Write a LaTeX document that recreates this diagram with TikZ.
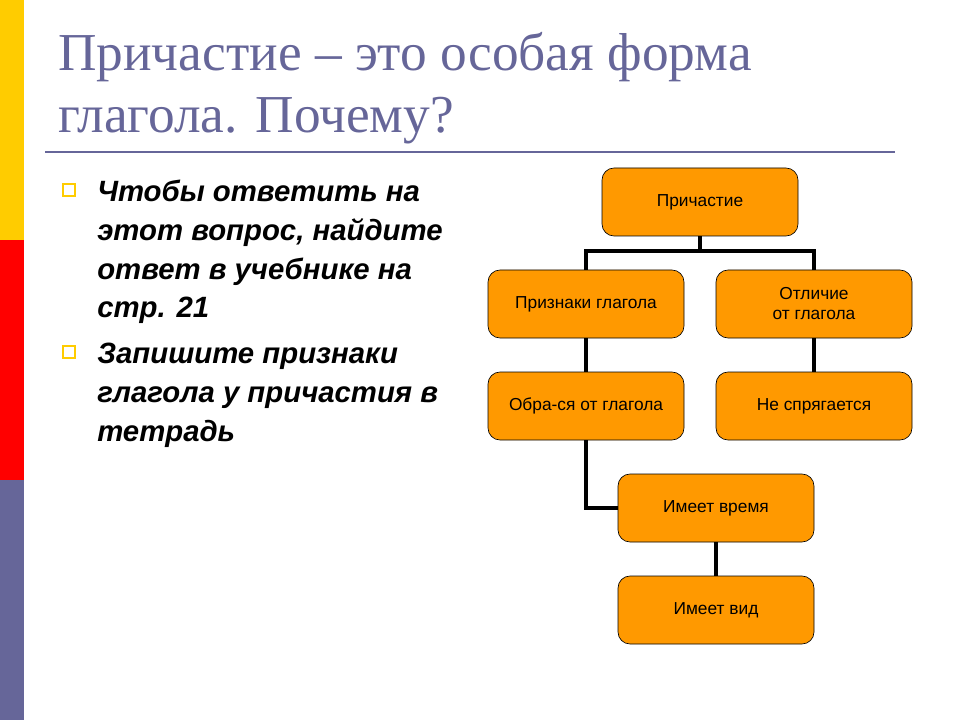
\documentclass[tikz,border=0pt]{standalone}
\usepackage{fontspec}
\setmainfont{Liberation Serif}
\newfontfamily\arialfont{Liberation Sans}
\definecolor{slideblue}{HTML}{666699}
\definecolor{slideyellow}{HTML}{FFCC00}
\definecolor{slidered}{HTML}{FF0000}
\definecolor{boxorange}{HTML}{FF9900}
\begin{document}
\begin{tikzpicture}[x=0.75pt, y=-0.75pt,
    box/.style={draw, rounded corners=9pt, fill=boxorange, line width=0.5pt,
        minimum width=147pt, minimum height=51pt, align=center,
        font=\arialfont\fontsize{13}{15}\selectfont},
    link/.style={line width=2.5pt},
    bullet/.style={draw=slideyellow, line width=2pt, minimum size=9pt, inner sep=0pt},
    item/.style={anchor=north west, inner sep=0pt, align=left,
        font=\arialfont\bfseries\itshape\fontsize{22}{29}\selectfont}]

    \useasboundingbox (0,0) rectangle (960,720);

    % Left colour bar
    \fill[slideyellow] (0,0) rectangle (24,240);
    \fill[slidered] (0,240) rectangle (24,480);
    \fill[slideblue] (0,480) rectangle (24,720);

    % Title and rule
    \node[anchor=north west, inner sep=0pt, align=left, text=slideblue,
        font=\fontsize{40}{46.5}\selectfont] (title) at (58,32)
        {Причастие – это особая форма\\глагола. Почему?};
    \draw[slideblue, line width=1.5pt] (45,152) -- (895,152);

    % Bullets on the left
    \node[bullet] (b1) at (69,190) {};
    \node[item] (t1) at (97,180) {Чтобы ответить на\\этот вопрос, найдите\\ответ в учебнике на\\стр. 21};
    \node[bullet] (b2) at (69,352) {};
    \node[item] (t2) at (97,343) {Запишите признаки\\глагола у причастия в\\тетрадь};

    % Define nodes of the scheme (top)
    \node[box] (prich) at (700,202) {Причастие};

    % Define nodes in the second row
    \node[box] (priz) at (586,304) {Признаки глагола};
    \node[box] (otl) at (814,304) {Отличие\\от глагола};

    % Define nodes in the third row
    \node[box] (obra) at (586,406) {Обра-ся от глагола};
    \node[box] (nespr) at (814,406) {Не спрягается};

    % Define nodes at the bottom
    \node[box] (vrem) at (716,508) {Имеет время};
    \node[box] (vid) at (716,610) {Имеет вид};

    % Draw the connectors
    \coordinate (fork) at (700,251);
    \draw[link] (prich) -- (fork);
    \draw[link] (priz.north) |- (fork) -| (otl.north);
    \draw[link] (priz) -- (obra);
    \draw[link] (otl) -- (nespr);
    \draw[link] (obra.south) |- (vrem.west);
    \draw[link] (vrem) -- (vid);

\end{tikzpicture}
\end{document}
